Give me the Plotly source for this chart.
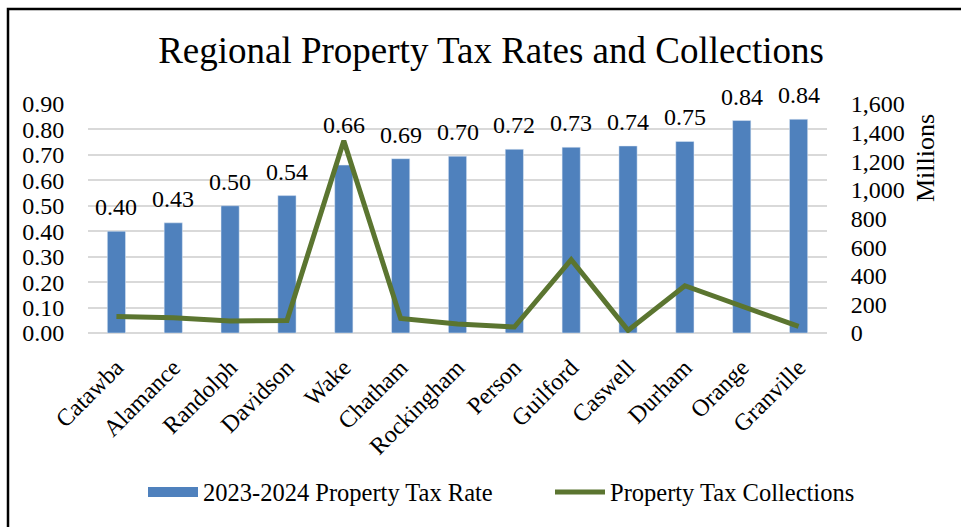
import plotly.graph_objs as go

counties = ['Catawba', 'Alamance', 'Randolph', 'Davidson', 'Wake', 'Chatham', 'Rockingham',
            'Person', 'Guilford', 'Caswell', 'Durham', 'Orange', 'Granville']
tax_rate = [0.40, 0.433, 0.50, 0.54, 0.66, 0.685, 0.695, 0.722, 0.73, 0.735, 0.753, 0.835, 0.84]
rate_labels = ['0.40', '0.43', '0.50', '0.54', '0.66', '0.69', '0.70', '0.72', '0.73', '0.74', '0.75', '0.84', '0.84']
collections_m = [116, 107, 84, 88, 1343, 102, 63, 42, 512, 18, 330, 186, 46]

FONT = 'Liberation Serif'
BLUE = '#4F81BD'
GREEN = '#5B7530'

# plot area in page pixels: x 88..827, y 104..333
def px_x(p):
    return (p - 88) / 739

def px_y(p):
    return (333 - p) / 229

fig = go.Figure()
fig.add_trace(go.Bar(
    x=counties, y=tax_rate, name='2023-2024 Property Tax Rate',
    marker_color=BLUE, width=0.32, yaxis='y', showlegend=False
))
# legend entry for the bars, drawn as a thick swatch like the original
fig.add_trace(go.Scatter(
    x=[None], y=[None], name='2023-2024 Property Tax Rate', mode='lines',
    line=dict(color=BLUE, width=14), yaxis='y', legend='legend'
))
fig.add_trace(go.Scatter(
    x=counties, y=collections_m, name='Property Tax Collections',
    mode='lines', line=dict(color=GREEN, width=5), yaxis='y2', legend='legend2'
))

# data labels above the bars (Wake nudged up so the line doesn't cover it)
for c, v, t in zip(counties, tax_rate, rate_labels):
    fig.add_annotation(x=c, y=v, yref='y', text=t, showarrow=False,
                       yanchor='middle', yshift=40 if c == 'Wake' else 24,
                       font=dict(family=FONT, size=24, color='black'))

fig.add_annotation(xref='paper', yref='paper', x=px_x(925), y=px_y(158), text='Millions',
                   textangle=-90, showarrow=False, xanchor='center', yanchor='middle',
                   font=dict(family=FONT, size=26, color='black'))

# chart outline (cropped on the right/bottom)
fig.add_shape(type='rect', xref='paper', yref='paper', x0=px_x(8), y0=px_y(545),
              x1=px_x(975), y1=px_y(9),
              line=dict(color='black', width=2.5), fillcolor='rgba(0,0,0,0)', layer='below')

legend_style = dict(orientation='h', xanchor='left', yanchor='middle', y=px_y(492),
                    font=dict(family=FONT, size=24.5, color='black'), itemwidth=50,
                    bgcolor='rgba(0,0,0,0)')

fig.update_layout(
    width=961, height=527,
    margin=dict(l=88, r=134, t=104, b=194, autoexpand=False),
    paper_bgcolor='white', plot_bgcolor='white',
    font=dict(family=FONT, size=22, color='black'),
    title=dict(text='Regional Property Tax Rates and Collections', x=px_x(491), xanchor='center',
               xref='paper', y=0.905, yanchor='middle',
               font=dict(family=FONT, size=37, color='black')),
    showlegend=True,
    legend=dict(x=px_x(143), **legend_style),
    legend2=dict(x=px_x(550), **legend_style),
    xaxis=dict(tickangle=-45, tickfont=dict(family=FONT, size=24, color='black'),
               showgrid=False, showline=False, ticks='outside', ticklen=10,
               tickcolor='rgba(0,0,0,0)', automargin=False, range=[-0.5, 12.5]),
    yaxis=dict(range=[0, 0.9], dtick=0.1, tickformat='.2f', showgrid=True,
               gridcolor='#D9D9D9', gridwidth=1.5, zeroline=True, zerolinecolor='#D9D9D9',
               zerolinewidth=1.5, ticks='outside', ticklen=18, tickcolor='rgba(0,0,0,0)',
               automargin=False,
               tickfont=dict(family=FONT, size=24, color='black')),
    yaxis2=dict(range=[0, 1600], dtick=200, tickformat=',', overlaying='y', side='right',
                showgrid=False, zeroline=False, ticks='outside', ticklen=18,
                tickcolor='rgba(0,0,0,0)', automargin=False,
                tickfont=dict(family=FONT, size=24, color='black')),
)

# drop the browser's default 8px body margin so the figure sits at the page origin
fig.write_html('out.html', config={'displayModeBar': False},
               post_script="document.body.style.margin='0px';")
